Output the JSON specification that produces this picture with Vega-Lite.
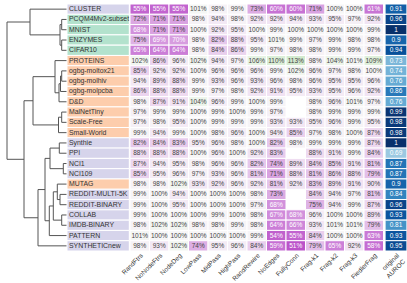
{
"$schema": "https://vega.github.io/schema/vega-lite/v6.json",
"padding": {"left": 0, "top": 3, "right": 0, "bottom": 0},
"spacing": 0,
"bounds": "flush",
"config": {"view": {"stroke": null}, "font": "Liberation Sans", "concat": {"spacing": 0}},
"datasets": {
"rows": [
{"r":"CLUSTER","g":"a"},{"r":"PCQM4Mv2-subset","g":"b"},{"r":"MNIST","g":"b"},{"r":"ENZYMES","g":"b"},{"r":"CIFAR10","g":"b"},
{"r":"PROTEINS","g":"c"},{"r":"ogbg-moltox21","g":"c"},{"r":"ogbg-molhiv","g":"c"},{"r":"ogbg-molpcba","g":"c"},{"r":"D&D","g":"c"},
{"r":"MalNetTiny","g":"c"},{"r":"Scale-Free","g":"c"},{"r":"Small-World","g":"c"},{"r":"Synthie","g":"a"},{"r":"PPI","g":"a"},
{"r":"NCI1","g":"a"},{"r":"NCI109","g":"a"},{"r":"MUTAG","g":"c"},{"r":"REDDIT-MULTI-5K","g":"a"},{"r":"REDDIT-BINARY","g":"a"},
{"r":"COLLAB","g":"a"},{"r":"IMDB-BINARY","g":"a"},{"r":"PATTERN","g":"a"},{"r":"SYNTHETICnew","g":"a"}
],
"auroc": [
{"r":"CLUSTER","c":"original AUROC","v":0.91},{"r":"PCQM4Mv2-subset","c":"original AUROC","v":0.96},{"r":"MNIST","c":"original AUROC","v":1},{"r":"ENZYMES","c":"original AUROC","v":0.9},{"r":"CIFAR10","c":"original AUROC","v":0.94},
{"r":"PROTEINS","c":"original AUROC","v":0.73},{"r":"ogbg-moltox21","c":"original AUROC","v":0.74},{"r":"ogbg-molhiv","c":"original AUROC","v":0.76},{"r":"ogbg-molpcba","c":"original AUROC","v":0.86},{"r":"D&D","c":"original AUROC","v":0.76},
{"r":"MalNetTiny","c":"original AUROC","v":0.99},{"r":"Scale-Free","c":"original AUROC","v":0.98},{"r":"Small-World","c":"original AUROC","v":0.98},{"r":"Synthie","c":"original AUROC","v":1},{"r":"PPI","c":"original AUROC","v":0.69},
{"r":"NCI1","c":"original AUROC","v":0.87},{"r":"NCI109","c":"original AUROC","v":0.87},{"r":"MUTAG","c":"original AUROC","v":0.9},{"r":"REDDIT-MULTI-5K","c":"original AUROC","v":0.84},{"r":"REDDIT-BINARY","c":"original AUROC","v":0.96},
{"r":"COLLAB","c":"original AUROC","v":0.93},{"r":"IMDB-BINARY","c":"original AUROC","v":0.81},{"r":"PATTERN","c":"original AUROC","v":0.93},{"r":"SYNTHETICnew","c":"original AUROC","v":0.95}
],
"cells": [
{"r":"CLUSTER","c":"RandFtrs","v":0.55},{"r":"CLUSTER","c":"NoNodeFtrs","v":0.55},{"r":"CLUSTER","c":"NodeDeg","v":0.55},{"r":"CLUSTER","c":"LowPass","v":1.01},{"r":"CLUSTER","c":"MidPass","v":0.98},{"r":"CLUSTER","c":"HighPass","v":0.99},{"r":"CLUSTER","c":"RandRewire","v":0.73},{"r":"CLUSTER","c":"NoEdges","v":0.60},{"r":"CLUSTER","c":"FullyConn","v":0.60},{"r":"CLUSTER","c":"Frag-k1","v":0.71},{"r":"CLUSTER","c":"Frag-k2","v":1.00},{"r":"CLUSTER","c":"Frag-k3","v":1.00},{"r":"CLUSTER","c":"FiedlerFrag","v":0.61},
{"r":"PCQM4Mv2-subset","c":"RandFtrs","v":0.72},{"r":"PCQM4Mv2-subset","c":"NoNodeFtrs","v":0.71},{"r":"PCQM4Mv2-subset","c":"NodeDeg","v":0.71},{"r":"PCQM4Mv2-subset","c":"LowPass","v":0.98},{"r":"PCQM4Mv2-subset","c":"MidPass","v":0.94},{"r":"PCQM4Mv2-subset","c":"HighPass","v":0.98},{"r":"PCQM4Mv2-subset","c":"RandRewire","v":0.92},{"r":"PCQM4Mv2-subset","c":"NoEdges","v":0.92},{"r":"PCQM4Mv2-subset","c":"FullyConn","v":0.94},{"r":"PCQM4Mv2-subset","c":"Frag-k1","v":0.93},{"r":"PCQM4Mv2-subset","c":"Frag-k2","v":0.95},{"r":"PCQM4Mv2-subset","c":"Frag-k3","v":0.97},{"r":"PCQM4Mv2-subset","c":"FiedlerFrag","v":0.92},
{"r":"MNIST","c":"RandFtrs","v":0.68},{"r":"MNIST","c":"NoNodeFtrs","v":0.71},{"r":"MNIST","c":"NodeDeg","v":0.71},{"r":"MNIST","c":"LowPass","v":1.00},{"r":"MNIST","c":"MidPass","v":0.92},{"r":"MNIST","c":"HighPass","v":0.95},{"r":"MNIST","c":"RandRewire","v":1.00},{"r":"MNIST","c":"NoEdges","v":0.99},{"r":"MNIST","c":"FullyConn","v":1.00},{"r":"MNIST","c":"Frag-k1","v":1.00},{"r":"MNIST","c":"Frag-k2","v":1.00},{"r":"MNIST","c":"Frag-k3","v":1.00},{"r":"MNIST","c":"FiedlerFrag","v":0.99},
{"r":"ENZYMES","c":"RandFtrs","v":0.75},{"r":"ENZYMES","c":"NoNodeFtrs","v":0.69},{"r":"ENZYMES","c":"NodeDeg","v":0.70},{"r":"ENZYMES","c":"LowPass","v":0.98},{"r":"ENZYMES","c":"MidPass","v":0.82},{"r":"ENZYMES","c":"HighPass","v":0.88},{"r":"ENZYMES","c":"RandRewire","v":0.95},{"r":"ENZYMES","c":"NoEdges","v":1.01},{"r":"ENZYMES","c":"FullyConn","v":0.99},{"r":"ENZYMES","c":"Frag-k1","v":0.97},{"r":"ENZYMES","c":"Frag-k2","v":0.99},{"r":"ENZYMES","c":"Frag-k3","v":0.98},{"r":"ENZYMES","c":"FiedlerFrag","v":0.98},
{"r":"CIFAR10","c":"RandFtrs","v":0.65},{"r":"CIFAR10","c":"NoNodeFtrs","v":0.64},{"r":"CIFAR10","c":"NodeDeg","v":0.64},{"r":"CIFAR10","c":"LowPass","v":0.98},{"r":"CIFAR10","c":"MidPass","v":0.84},{"r":"CIFAR10","c":"HighPass","v":0.86},{"r":"CIFAR10","c":"RandRewire","v":0.99},{"r":"CIFAR10","c":"NoEdges","v":0.97},{"r":"CIFAR10","c":"FullyConn","v":0.98},{"r":"CIFAR10","c":"Frag-k1","v":0.98},{"r":"CIFAR10","c":"Frag-k2","v":0.99},{"r":"CIFAR10","c":"Frag-k3","v":0.99},{"r":"CIFAR10","c":"FiedlerFrag","v":0.97},
{"r":"PROTEINS","c":"RandFtrs","v":1.02},{"r":"PROTEINS","c":"NoNodeFtrs","v":0.86},{"r":"PROTEINS","c":"NodeDeg","v":0.96},{"r":"PROTEINS","c":"LowPass","v":1.02},{"r":"PROTEINS","c":"MidPass","v":0.94},{"r":"PROTEINS","c":"HighPass","v":0.97},{"r":"PROTEINS","c":"RandRewire","v":1.06},{"r":"PROTEINS","c":"NoEdges","v":1.10},{"r":"PROTEINS","c":"FullyConn","v":1.13},{"r":"PROTEINS","c":"Frag-k1","v":0.98},{"r":"PROTEINS","c":"Frag-k2","v":1.04},{"r":"PROTEINS","c":"Frag-k3","v":1.01},{"r":"PROTEINS","c":"FiedlerFrag","v":1.09},
{"r":"ogbg-moltox21","c":"RandFtrs","v":0.85},{"r":"ogbg-moltox21","c":"NoNodeFtrs","v":0.92},{"r":"ogbg-moltox21","c":"NodeDeg","v":0.92},{"r":"ogbg-moltox21","c":"LowPass","v":1.00},{"r":"ogbg-moltox21","c":"MidPass","v":0.96},{"r":"ogbg-moltox21","c":"HighPass","v":0.96},{"r":"ogbg-moltox21","c":"RandRewire","v":0.96},{"r":"ogbg-moltox21","c":"NoEdges","v":0.99},{"r":"ogbg-moltox21","c":"FullyConn","v":1.02},{"r":"ogbg-moltox21","c":"Frag-k1","v":0.96},{"r":"ogbg-moltox21","c":"Frag-k2","v":0.97},{"r":"ogbg-moltox21","c":"Frag-k3","v":0.98},{"r":"ogbg-moltox21","c":"FiedlerFrag","v":1.00},
{"r":"ogbg-molhiv","c":"RandFtrs","v":0.94},{"r":"ogbg-molhiv","c":"NoNodeFtrs","v":0.89},{"r":"ogbg-molhiv","c":"NodeDeg","v":0.88},{"r":"ogbg-molhiv","c":"LowPass","v":0.99},{"r":"ogbg-molhiv","c":"MidPass","v":0.93},{"r":"ogbg-molhiv","c":"HighPass","v":0.96},{"r":"ogbg-molhiv","c":"RandRewire","v":0.93},{"r":"ogbg-molhiv","c":"NoEdges","v":0.96},{"r":"ogbg-molhiv","c":"FullyConn","v":0.98},{"r":"ogbg-molhiv","c":"Frag-k1","v":0.96},{"r":"ogbg-molhiv","c":"Frag-k2","v":0.95},{"r":"ogbg-molhiv","c":"Frag-k3","v":0.95},{"r":"ogbg-molhiv","c":"FiedlerFrag","v":0.96},
{"r":"ogbg-molpcba","c":"RandFtrs","v":0.86},{"r":"ogbg-molpcba","c":"NoNodeFtrs","v":0.88},{"r":"ogbg-molpcba","c":"NodeDeg","v":0.88},{"r":"ogbg-molpcba","c":"LowPass","v":0.99},{"r":"ogbg-molpcba","c":"MidPass","v":0.97},{"r":"ogbg-molpcba","c":"HighPass","v":0.98},{"r":"ogbg-molpcba","c":"RandRewire","v":0.92},{"r":"ogbg-molpcba","c":"NoEdges","v":0.91},{"r":"ogbg-molpcba","c":"FullyConn","v":0.95},{"r":"ogbg-molpcba","c":"Frag-k1","v":0.93},{"r":"ogbg-molpcba","c":"Frag-k2","v":0.95},{"r":"ogbg-molpcba","c":"Frag-k3","v":0.96},{"r":"ogbg-molpcba","c":"FiedlerFrag","v":0.92},
{"r":"D&D","c":"RandFtrs","v":0.98},{"r":"D&D","c":"NoNodeFtrs","v":0.87},{"r":"D&D","c":"NodeDeg","v":0.91},{"r":"D&D","c":"LowPass","v":1.04},{"r":"D&D","c":"MidPass","v":0.96},{"r":"D&D","c":"HighPass","v":0.99},{"r":"D&D","c":"RandRewire","v":1.00},{"r":"D&D","c":"NoEdges","v":0.99},{"r":"D&D","c":"FullyConn","v":null},{"r":"D&D","c":"Frag-k1","v":0.98},{"r":"D&D","c":"Frag-k2","v":0.96},{"r":"D&D","c":"Frag-k3","v":1.01},{"r":"D&D","c":"FiedlerFrag","v":0.97},
{"r":"MalNetTiny","c":"RandFtrs","v":0.97},{"r":"MalNetTiny","c":"NoNodeFtrs","v":0.99},{"r":"MalNetTiny","c":"NodeDeg","v":0.99},{"r":"MalNetTiny","c":"LowPass","v":1.00},{"r":"MalNetTiny","c":"MidPass","v":0.99},{"r":"MalNetTiny","c":"HighPass","v":1.00},{"r":"MalNetTiny","c":"RandRewire","v":0.99},{"r":"MalNetTiny","c":"NoEdges","v":0.97},{"r":"MalNetTiny","c":"FullyConn","v":null},{"r":"MalNetTiny","c":"Frag-k1","v":0.98},{"r":"MalNetTiny","c":"Frag-k2","v":0.99},{"r":"MalNetTiny","c":"Frag-k3","v":0.99},{"r":"MalNetTiny","c":"FiedlerFrag","v":0.99},
{"r":"Scale-Free","c":"RandFtrs","v":0.97},{"r":"Scale-Free","c":"NoNodeFtrs","v":0.98},{"r":"Scale-Free","c":"NodeDeg","v":0.95},{"r":"Scale-Free","c":"LowPass","v":1.00},{"r":"Scale-Free","c":"MidPass","v":0.99},{"r":"Scale-Free","c":"HighPass","v":0.99},{"r":"Scale-Free","c":"RandRewire","v":0.99},{"r":"Scale-Free","c":"NoEdges","v":0.93},{"r":"Scale-Free","c":"FullyConn","v":0.93},{"r":"Scale-Free","c":"Frag-k1","v":0.95},{"r":"Scale-Free","c":"Frag-k2","v":0.96},{"r":"Scale-Free","c":"Frag-k3","v":0.99},{"r":"Scale-Free","c":"FiedlerFrag","v":0.95},
{"r":"Small-World","c":"RandFtrs","v":0.99},{"r":"Small-World","c":"NoNodeFtrs","v":0.94},{"r":"Small-World","c":"NodeDeg","v":0.99},{"r":"Small-World","c":"LowPass","v":1.00},{"r":"Small-World","c":"MidPass","v":0.98},{"r":"Small-World","c":"HighPass","v":0.96},{"r":"Small-World","c":"RandRewire","v":1.00},{"r":"Small-World","c":"NoEdges","v":0.94},{"r":"Small-World","c":"FullyConn","v":0.85},{"r":"Small-World","c":"Frag-k1","v":0.97},{"r":"Small-World","c":"Frag-k2","v":0.98},{"r":"Small-World","c":"Frag-k3","v":1.00},{"r":"Small-World","c":"FiedlerFrag","v":0.87},
{"r":"Synthie","c":"RandFtrs","v":0.82},{"r":"Synthie","c":"NoNodeFtrs","v":0.84},{"r":"Synthie","c":"NodeDeg","v":0.83},{"r":"Synthie","c":"LowPass","v":0.95},{"r":"Synthie","c":"MidPass","v":0.96},{"r":"Synthie","c":"HighPass","v":0.98},{"r":"Synthie","c":"RandRewire","v":1.00},{"r":"Synthie","c":"NoEdges","v":0.82},{"r":"Synthie","c":"FullyConn","v":0.98},{"r":"Synthie","c":"Frag-k1","v":0.99},{"r":"Synthie","c":"Frag-k2","v":0.99},{"r":"Synthie","c":"Frag-k3","v":0.99},{"r":"Synthie","c":"FiedlerFrag","v":0.87},
{"r":"PPI","c":"RandFtrs","v":0.88},{"r":"PPI","c":"NoNodeFtrs","v":0.88},{"r":"PPI","c":"NodeDeg","v":0.88},{"r":"PPI","c":"LowPass","v":1.00},{"r":"PPI","c":"MidPass","v":0.96},{"r":"PPI","c":"HighPass","v":1.00},{"r":"PPI","c":"RandRewire","v":0.92},{"r":"PPI","c":"NoEdges","v":0.83},{"r":"PPI","c":"FullyConn","v":null},{"r":"PPI","c":"Frag-k1","v":0.88},{"r":"PPI","c":"Frag-k2","v":0.91},{"r":"PPI","c":"Frag-k3","v":0.99},{"r":"PPI","c":"FiedlerFrag","v":0.84},
{"r":"NCI1","c":"RandFtrs","v":0.87},{"r":"NCI1","c":"NoNodeFtrs","v":0.94},{"r":"NCI1","c":"NodeDeg","v":0.95},{"r":"NCI1","c":"LowPass","v":0.98},{"r":"NCI1","c":"MidPass","v":0.96},{"r":"NCI1","c":"HighPass","v":0.96},{"r":"NCI1","c":"RandRewire","v":0.82},{"r":"NCI1","c":"NoEdges","v":0.74},{"r":"NCI1","c":"FullyConn","v":0.89},{"r":"NCI1","c":"Frag-k1","v":0.84},{"r":"NCI1","c":"Frag-k2","v":0.85},{"r":"NCI1","c":"Frag-k3","v":0.91},{"r":"NCI1","c":"FiedlerFrag","v":0.81},
{"r":"NCI109","c":"RandFtrs","v":0.85},{"r":"NCI109","c":"NoNodeFtrs","v":0.95},{"r":"NCI109","c":"NodeDeg","v":0.96},{"r":"NCI109","c":"LowPass","v":0.97},{"r":"NCI109","c":"MidPass","v":0.93},{"r":"NCI109","c":"HighPass","v":0.96},{"r":"NCI109","c":"RandRewire","v":0.81},{"r":"NCI109","c":"NoEdges","v":0.71},{"r":"NCI109","c":"FullyConn","v":0.88},{"r":"NCI109","c":"Frag-k1","v":0.81},{"r":"NCI109","c":"Frag-k2","v":0.86},{"r":"NCI109","c":"Frag-k3","v":0.88},{"r":"NCI109","c":"FiedlerFrag","v":0.79},
{"r":"MUTAG","c":"RandFtrs","v":0.98},{"r":"MUTAG","c":"NoNodeFtrs","v":0.98},{"r":"MUTAG","c":"NodeDeg","v":1.02},{"r":"MUTAG","c":"LowPass","v":0.93},{"r":"MUTAG","c":"MidPass","v":0.92},{"r":"MUTAG","c":"HighPass","v":0.96},{"r":"MUTAG","c":"RandRewire","v":0.92},{"r":"MUTAG","c":"NoEdges","v":0.81},{"r":"MUTAG","c":"FullyConn","v":0.92},{"r":"MUTAG","c":"Frag-k1","v":0.83},{"r":"MUTAG","c":"Frag-k2","v":0.89},{"r":"MUTAG","c":"Frag-k3","v":0.91},{"r":"MUTAG","c":"FiedlerFrag","v":0.90},
{"r":"REDDIT-MULTI-5K","c":"RandFtrs","v":0.99},{"r":"REDDIT-MULTI-5K","c":"NoNodeFtrs","v":1.00},{"r":"REDDIT-MULTI-5K","c":"NodeDeg","v":0.94},{"r":"REDDIT-MULTI-5K","c":"LowPass","v":1.00},{"r":"REDDIT-MULTI-5K","c":"MidPass","v":1.00},{"r":"REDDIT-MULTI-5K","c":"HighPass","v":1.00},{"r":"REDDIT-MULTI-5K","c":"RandRewire","v":0.98},{"r":"REDDIT-MULTI-5K","c":"NoEdges","v":0.73},{"r":"REDDIT-MULTI-5K","c":"FullyConn","v":null},{"r":"REDDIT-MULTI-5K","c":"Frag-k1","v":0.84},{"r":"REDDIT-MULTI-5K","c":"Frag-k2","v":0.94},{"r":"REDDIT-MULTI-5K","c":"Frag-k3","v":0.97},{"r":"REDDIT-MULTI-5K","c":"FiedlerFrag","v":0.81},
{"r":"REDDIT-BINARY","c":"RandFtrs","v":0.99},{"r":"REDDIT-BINARY","c":"NoNodeFtrs","v":1.00},{"r":"REDDIT-BINARY","c":"NodeDeg","v":0.95},{"r":"REDDIT-BINARY","c":"LowPass","v":1.00},{"r":"REDDIT-BINARY","c":"MidPass","v":1.00},{"r":"REDDIT-BINARY","c":"HighPass","v":1.00},{"r":"REDDIT-BINARY","c":"RandRewire","v":0.97},{"r":"REDDIT-BINARY","c":"NoEdges","v":0.68},{"r":"REDDIT-BINARY","c":"FullyConn","v":null},{"r":"REDDIT-BINARY","c":"Frag-k1","v":0.75},{"r":"REDDIT-BINARY","c":"Frag-k2","v":0.94},{"r":"REDDIT-BINARY","c":"Frag-k3","v":0.99},{"r":"REDDIT-BINARY","c":"FiedlerFrag","v":0.87},
{"r":"COLLAB","c":"RandFtrs","v":0.99},{"r":"COLLAB","c":"NoNodeFtrs","v":1.00},{"r":"COLLAB","c":"NodeDeg","v":1.00},{"r":"COLLAB","c":"LowPass","v":1.00},{"r":"COLLAB","c":"MidPass","v":0.99},{"r":"COLLAB","c":"HighPass","v":1.00},{"r":"COLLAB","c":"RandRewire","v":0.98},{"r":"COLLAB","c":"NoEdges","v":0.67},{"r":"COLLAB","c":"FullyConn","v":0.68},{"r":"COLLAB","c":"Frag-k1","v":0.96},{"r":"COLLAB","c":"Frag-k2","v":1.00},{"r":"COLLAB","c":"Frag-k3","v":1.00},{"r":"COLLAB","c":"FiedlerFrag","v":0.89},
{"r":"IMDB-BINARY","c":"RandFtrs","v":0.98},{"r":"IMDB-BINARY","c":"NoNodeFtrs","v":1.02},{"r":"IMDB-BINARY","c":"NodeDeg","v":1.02},{"r":"IMDB-BINARY","c":"LowPass","v":0.98},{"r":"IMDB-BINARY","c":"MidPass","v":0.98},{"r":"IMDB-BINARY","c":"HighPass","v":0.99},{"r":"IMDB-BINARY","c":"RandRewire","v":0.98},{"r":"IMDB-BINARY","c":"NoEdges","v":0.64},{"r":"IMDB-BINARY","c":"FullyConn","v":0.66},{"r":"IMDB-BINARY","c":"Frag-k1","v":0.93},{"r":"IMDB-BINARY","c":"Frag-k2","v":1.01},{"r":"IMDB-BINARY","c":"Frag-k3","v":1.01},{"r":"IMDB-BINARY","c":"FiedlerFrag","v":0.79},
{"r":"PATTERN","c":"RandFtrs","v":1.01},{"r":"PATTERN","c":"NoNodeFtrs","v":1.00},{"r":"PATTERN","c":"NodeDeg","v":1.00},{"r":"PATTERN","c":"LowPass","v":1.00},{"r":"PATTERN","c":"MidPass","v":1.00},{"r":"PATTERN","c":"HighPass","v":1.00},{"r":"PATTERN","c":"RandRewire","v":0.99},{"r":"PATTERN","c":"NoEdges","v":0.54},{"r":"PATTERN","c":"FullyConn","v":0.55},{"r":"PATTERN","c":"Frag-k1","v":0.84},{"r":"PATTERN","c":"Frag-k2","v":1.00},{"r":"PATTERN","c":"Frag-k3","v":1.00},{"r":"PATTERN","c":"FiedlerFrag","v":0.63},
{"r":"SYNTHETICnew","c":"RandFtrs","v":0.98},{"r":"SYNTHETICnew","c":"NoNodeFtrs","v":0.93},{"r":"SYNTHETICnew","c":"NodeDeg","v":1.02},{"r":"SYNTHETICnew","c":"LowPass","v":0.74},{"r":"SYNTHETICnew","c":"MidPass","v":0.95},{"r":"SYNTHETICnew","c":"HighPass","v":0.96},{"r":"SYNTHETICnew","c":"RandRewire","v":0.84},{"r":"SYNTHETICnew","c":"NoEdges","v":0.59},{"r":"SYNTHETICnew","c":"FullyConn","v":0.51},{"r":"SYNTHETICnew","c":"Frag-k1","v":0.79},{"r":"SYNTHETICnew","c":"Frag-k2","v":0.65},{"r":"SYNTHETICnew","c":"Frag-k3","v":0.92},{"r":"SYNTHETICnew","c":"FiedlerFrag","v":0.58}
],
"dend": [
{"x":0,"x2":5.3,"y":1.5,"y2":1.5},{"x":0,"x2":5.3,"y":2.5,"y2":2.5},{"x":5.3,"x2":5.3,"y":1.5,"y2":2.5},
{"x":0,"x2":5.3,"y":3.5,"y2":3.5},{"x":0,"x2":5.3,"y":4.5,"y2":4.5},{"x":5.3,"x2":5.3,"y":3.5,"y2":4.5},
{"x":5.3,"x2":7,"y":2,"y2":2},{"x":5.3,"x2":7,"y":4,"y2":4},{"x":7,"x2":7,"y":2,"y2":4},
{"x":0,"x2":37,"y":0.5,"y2":0.5},{"x":7,"x2":37,"y":3,"y2":3},{"x":37,"x2":37,"y":0.5,"y2":3},
{"x":0,"x2":5.3,"y":6.5,"y2":6.5},{"x":0,"x2":5.3,"y":7.5,"y2":7.5},{"x":5.3,"x2":5.3,"y":6.5,"y2":7.5},
{"x":5.3,"x2":6.5,"y":7,"y2":7},{"x":0,"x2":6.5,"y":8.5,"y2":8.5},{"x":6.5,"x2":6.5,"y":7,"y2":8.5},
{"x":6.5,"x2":8,"y":7.75,"y2":7.75},{"x":0,"x2":8,"y":9.5,"y2":9.5},{"x":8,"x2":8,"y":7.75,"y2":9.5},
{"x":0,"x2":12,"y":5.5,"y2":5.5},{"x":8,"x2":12,"y":8.625,"y2":8.625},{"x":12,"x2":12,"y":5.5,"y2":8.625},
{"x":0,"x2":5.3,"y":10.5,"y2":10.5},{"x":0,"x2":5.3,"y":11.5,"y2":11.5},{"x":5.3,"x2":5.3,"y":10.5,"y2":11.5},
{"x":5.3,"x2":8.5,"y":11,"y2":11},{"x":0,"x2":8.5,"y":12.5,"y2":12.5},{"x":8.5,"x2":8.5,"y":11,"y2":12.5},
{"x":12,"x2":34,"y":7.06,"y2":7.06},{"x":8.5,"x2":34,"y":11.75,"y2":11.75},{"x":34,"x2":34,"y":7.06,"y2":11.75},
{"x":0,"x2":7.7,"y":13.5,"y2":13.5},{"x":0,"x2":7.7,"y":14.5,"y2":14.5},{"x":7.7,"x2":7.7,"y":13.5,"y2":14.5},
{"x":0,"x2":3.7,"y":15.5,"y2":15.5},{"x":0,"x2":3.7,"y":16.5,"y2":16.5},{"x":3.7,"x2":3.7,"y":15.5,"y2":16.5},
{"x":7.7,"x2":17,"y":14,"y2":14},{"x":3.7,"x2":17,"y":16,"y2":16},{"x":17,"x2":17,"y":14,"y2":16},
{"x":0,"x2":7,"y":18.5,"y2":18.5},{"x":0,"x2":7,"y":19.5,"y2":19.5},{"x":7,"x2":7,"y":18.5,"y2":19.5},
{"x":0,"x2":9.7,"y":17.5,"y2":17.5},{"x":7,"x2":9.7,"y":19,"y2":19},{"x":9.7,"x2":9.7,"y":17.5,"y2":19},
{"x":0,"x2":5.3,"y":20.5,"y2":20.5},{"x":0,"x2":5.3,"y":21.5,"y2":21.5},{"x":5.3,"x2":5.3,"y":20.5,"y2":21.5},
{"x":9.7,"x2":13.7,"y":18.25,"y2":18.25},{"x":5.3,"x2":13.7,"y":21,"y2":21},{"x":13.7,"x2":13.7,"y":18.25,"y2":21},
{"x":13.7,"x2":17.7,"y":19.625,"y2":19.625},{"x":0,"x2":17.7,"y":22.5,"y2":22.5},{"x":17.7,"x2":17.7,"y":19.625,"y2":22.5},
{"x":17,"x2":22,"y":15,"y2":15},{"x":17.7,"x2":22,"y":21.06,"y2":21.06},{"x":22,"x2":22,"y":15,"y2":21.06},
{"x":22,"x2":29,"y":18.03,"y2":18.03},{"x":0,"x2":29,"y":23.5,"y2":23.5},{"x":29,"x2":29,"y":18.03,"y2":23.5},
{"x":34,"x2":43,"y":9.4,"y2":9.4},{"x":29,"x2":43,"y":20.77,"y2":20.77},{"x":43,"x2":43,"y":9.4,"y2":20.77},
{"x":37,"x2":60,"y":1.75,"y2":1.75},{"x":43,"x2":60,"y":15.09,"y2":15.09},{"x":60,"x2":60,"y":1.75,"y2":15.09}
]
},
"hconcat": [
{
"width": 67, "height": 247,
"data": {"name": "dend"},
"mark": {"type": "rule", "color": "#555555", "strokeWidth": 1},
"encoding": {
"x": {"field": "x", "type": "quantitative", "scale": {"domain": [0, 67], "reverse": true, "nice": false, "zero": false}, "axis": null},
"x2": {"field": "x2"},
"y": {"field": "y", "type": "quantitative", "scale": {"domain": [0, 24], "reverse": true, "nice": false, "zero": false}, "axis": null},
"y2": {"field": "y2"}
}
},
{
"width": 62.3, "height": 247,
"data": {"name": "rows"},
"encoding": {"y": {"field": "r", "type": "nominal", "sort": null, "axis": null, "scale": {"paddingInner": 0, "paddingOuter": 0}}},
"layer": [
{"mark": {"type": "rect", "stroke": "white", "strokeWidth": 1},
 "encoding": {"color": {"field": "g", "type": "nominal", "scale": {"domain": ["a", "b", "c"], "range": ["#d6d4eb", "#b3e2cd", "#fdcdac"]}, "legend": null}}},
{"mark": {"type": "text", "align": "left", "dx": 2, "fontSize": 6.9, "color": "#333333"},
 "encoding": {"x": {"datum": 0, "type": "quantitative", "scale": {"domain": [0, 1], "nice": false}, "axis": null}, "text": {"field": "r", "type": "nominal"}}}
]
},
{
"width": 253.5, "height": 247,
"data": {"name": "cells"},
"encoding": {
"x": {"field": "c", "type": "nominal", "sort": null, "scale": {"paddingInner": 0, "paddingOuter": 0}, "axis": {"title": null, "orient": "bottom", "labelAngle": -45, "domain": false, "ticks": false, "labelFontSize": 6.5, "labelColor": "#333333", "labelPadding": 1}},
"y": {"field": "r", "type": "nominal", "sort": null, "axis": null, "scale": {"paddingInner": 0, "paddingOuter": 0}}
},
"layer": [
{"mark": {"type": "rect", "stroke": "white", "strokeWidth": 1},
 "encoding": {"color": {"condition": {"test": "datum.v === null", "value": "#ebebf3"}, "field": "v", "type": "quantitative", "scale": {"domain": [0.5, 0.55, 0.65, 0.72, 0.82, 0.88, 0.94, 1.0, 1.06, 1.13], "range": ["#b94fc7", "#c264cf", "#cc80d8", "#dba8e2", "#e6c8ec", "#eedaf0", "#f3e9f5", "#f7f6f7", "#e6f3e3", "#d3eace"], "interpolate": "rgb", "clamp": true}, "legend": null}}},
{"transform": [{"filter": "datum.v !== null"}],
 "mark": {"type": "text", "fontSize": 6.5},
 "encoding": {"text": {"field": "v", "type": "quantitative", "format": ".0%"},
  "color": {"condition": {"test": "datum.v < 0.705", "value": "white"}, "value": "#444444"}}}
]
},
{
"width": 24, "height": 247,
"data": {"name": "auroc"},
"encoding": {
"x": {"field": "c", "type": "nominal", "scale": {"paddingInner": 0, "paddingOuter": 0.05}, "axis": {"title": null, "labelAngle": -45, "domain": false, "ticks": false, "labelFontSize": 6.5, "labelColor": "#333333", "labelPadding": 1, "labelExpr": "['original', 'AUROC']"}},
"y": {"field": "r", "type": "nominal", "sort": null, "axis": null, "scale": {"paddingInner": 0, "paddingOuter": 0}}
},
"layer": [
{"mark": {"type": "rect", "stroke": "white", "strokeWidth": 1},
 "encoding": {"color": {"field": "v", "type": "quantitative", "scale": {"domain": [0.5, 0.5625, 0.625, 0.6875, 0.75, 0.8125, 0.875, 0.9375, 1], "range": ["#f7fbff", "#deebf7", "#c6dbef", "#9ecae1", "#6baed6", "#4292c6", "#2171b5", "#08519c", "#08306b"]}, "legend": null}}},
{"mark": {"type": "text", "fontSize": 6.5, "color": "white"},
 "encoding": {"text": {"field": "v", "type": "nominal"}}}
]
}
]
}
